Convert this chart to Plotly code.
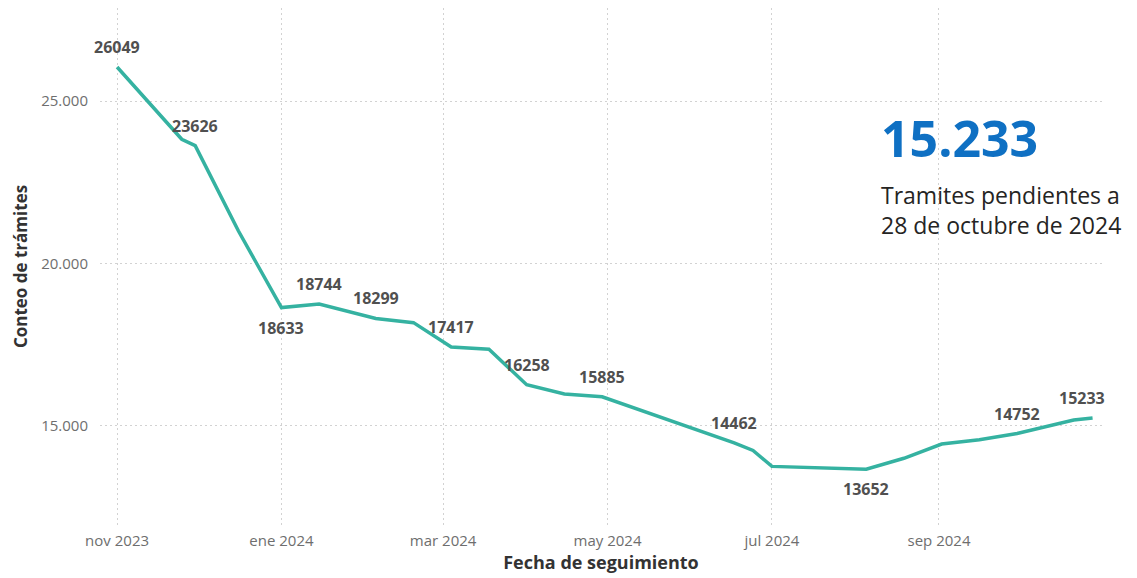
import plotly.graph_objects as go

# ---- data ----
dates = ["2023-11-01", "2023-11-25", "2023-11-30", "2023-12-16", "2024-01-01",
         "2024-01-15", "2024-02-05", "2024-02-19", "2024-03-04", "2024-03-18",
         "2024-04-01", "2024-04-15", "2024-04-29", "2024-05-13", "2024-05-27",
         "2024-06-10", "2024-06-17", "2024-06-24", "2024-07-01", "2024-08-05",
         "2024-08-19", "2024-09-02", "2024-09-16", "2024-09-30", "2024-10-14",
         "2024-10-21", "2024-10-28"]
counts = [26049, 23820, 23626, 21000, 18633,
          18744, 18299, 18170, 17417, 17350,
          16258, 15970, 15885, 15480, 15060,
          14660, 14462, 14230, 13740, 13652,
          13990, 14430, 14560, 14752, 15040,
          15170, 15233]
# which points carry a data label, and where (+1 above, -1 below)
label_shown = [1, 0, 1, 0, 1,
               1, 1, 0, 1, 0,
               1, 0, 1, 0, 0,
               0, 1, 0, 0, 1,
               0, 0, 0, 1, 0,
               0, 1]
label_side = [1, 1, 1, 1, -1,
              1, 1, 1, 1, 1,
              1, 1, 1, 1, 1,
              1, 1, 1, 1, -1,
              1, 1, 1, 1, 1,
              1, 1]

x_tick_vals = ["2023-11-01", "2024-01-01", "2024-03-01", "2024-05-01", "2024-07-01", "2024-09-01"]
x_tick_text = ["nov 2023", "ene 2024", "mar 2024", "may 2024", "jul 2024", "sep 2024"]
y_tick_vals = [15000, 20000, 25000]
y_tick_text = ["15.000", "20.000", "25.000"]

kpi_value = "15.233"
kpi_caption = "Tramites pendientes a<br>28 de octubre de 2024"

FONT = "Open Sans"
LINE = "#35B2A1"
GRID = "#D2D2D2"

fig = go.Figure()
fig.add_trace(go.Scatter(
    x=dates, y=counts, mode="lines",
    line=dict(color=LINE, width=3.5),
    hoverinfo="x+y", showlegend=False,
))

annotations = []
n = len(dates)
for i, (d, v, s, side) in enumerate(zip(dates, counts, label_shown, label_side)):
    if not s:
        continue
    annotations.append(dict(
        x=d, y=v, xref="x", yref="y", text=str(v), showarrow=False,
        font=dict(family=FONT, size=16, color="#505050", weight="bold"),
        xanchor="center", yanchor="middle",
        yshift=20 * side,
        xshift=(-11 if i == n - 1 else 0),
    ))

annotations.append(dict(
    x=0.777, y=0.749, xref="paper", yref="paper", text=kpi_value, showarrow=False,
    xanchor="left", yanchor="middle",
    font=dict(family=FONT, size=50, color="#0F70C3", weight="bold"),
))
annotations.append(dict(
    x=0.777, y=0.609, xref="paper", yref="paper", text=kpi_caption, showarrow=False,
    xanchor="left", yanchor="middle", align="left",
    font=dict(family=FONT, size=23, color="#252423"),
))

fig.update_layout(
    width=1129, height=570,
    margin=dict(l=92, r=35, t=0, b=53),
    paper_bgcolor="white", plot_bgcolor="white",
    font=dict(family=FONT),
    annotations=annotations,
    xaxis=dict(
        type="date",
        range=["2023-10-25 16:00", "2024-10-31 12:00"],
        tickvals=x_tick_vals, ticktext=x_tick_text,
        tickfont=dict(family=FONT, size=15, color="#6E6E6E"),
        ticks="outside", ticklen=2, tickcolor="rgba(0,0,0,0)",
        showgrid=True, gridcolor=GRID, griddash="2px,3px", gridwidth=1,
        showline=False, zeroline=False,
        title=dict(text="Fecha de seguimiento", standoff=7,
                   font=dict(family=FONT, size=18, color="#333333", weight="bold")),
        automargin=False,
    ),
    yaxis=dict(
        range=[11934, 27866],
        tickvals=y_tick_vals, ticktext=y_tick_text,
        tickfont=dict(family=FONT, size=15, color="#6E6E6E"),
        ticks="outside", ticklen=8, tickcolor="rgba(0,0,0,0)",
        showgrid=True, gridcolor=GRID, griddash="2px,3px", gridwidth=1,
        showline=False, zeroline=False,
        title=dict(text="Conteo de trámites", standoff=9,
                   font=dict(family=FONT, size=17, color="#333333", weight="bold")),
        automargin=False,
    ),
)

fig.write_html("out.html")
